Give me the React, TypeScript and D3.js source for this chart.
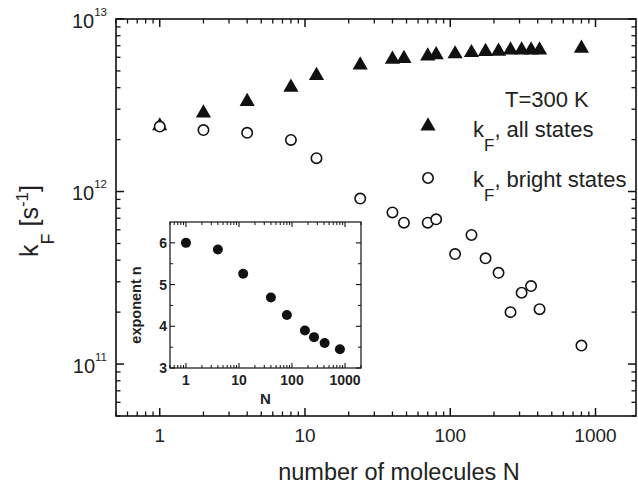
import React, { useEffect, useRef } from "react";
import { select, scaleLog, scaleLinear, symbol, symbolTriangle } from "d3";

// main panel data
const molecules = [1, 2, 4, 8, 12, 24, 40, 48, 70, 80, 108, 140, 175, 215, 260, 310, 360, 412, 800];
const kAllStates = [2.4e12, 2.85e12, 3.32e12, 4.02e12, 4.7e12, 5.41e12, 5.84e12, 5.9e12, 6.1e12, 6.2e12, 6.27e12, 6.38e12, 6.47e12, 6.5e12, 6.6e12, 6.6e12, 6.6e12, 6.6e12, 6.76e12];
const kBrightStates = [2.38e12, 2.27e12, 2.19e12, 1.99e12, 1.56e12, 9.1e11, 7.57e11, 6.6e11, 6.6e11, 6.9e11, 4.34e11, 5.6e11, 4.1e11, 3.38e11, 2.0e11, 2.59e11, 2.83e11, 2.08e11, 1.28e11];

// inset data
const insetN = [1, 4, 12, 40, 80, 175, 260, 412, 800];
const insetExponent = [6.0, 5.84, 5.26, 4.69, 4.27, 3.9, 3.74, 3.6, 3.45];

const xTickValues = [1, 10, 100, 1000];
const yTickPowers = [11, 12, 13];
const insetYTicks = [3, 4, 5, 6];
const insetYMinor = [3.5, 4.5, 5.5];

const FONT = "'Liberation Sans', Arial, Helvetica, sans-serif";

function logMinor(lo: number, hi: number) {
  const out: number[] = [];
  for (let d = Math.floor(Math.log10(lo)); d <= Math.ceil(Math.log10(hi)); d++) {
    for (let m = 2; m <= 9; m++) {
      const v = m * Math.pow(10, d);
      if (v >= lo && v <= hi) out.push(v);
    }
  }
  return out;
}

function drawTicks(g: any, values: number[], scale: any, box: any, len: number, sides: string[], width: number) {
  sides.forEach((side) => {
    g.append("g")
      .selectAll("line")
      .data(values)
      .join("line")
      .attr("x1", (v: number) => (side === "bottom" || side === "top" ? scale(v) : side === "left" ? box.left : box.right))
      .attr("x2", (v: number) => (side === "bottom" || side === "top" ? scale(v) : side === "left" ? box.left + len : box.right - len))
      .attr("y1", (v: number) => (side === "left" || side === "right" ? scale(v) : side === "bottom" ? box.bottom : box.top))
      .attr("y2", (v: number) => (side === "left" || side === "right" ? scale(v) : side === "bottom" ? box.bottom - len : box.top + len))
      .attr("stroke", "#111")
      .attr("stroke-width", width);
  });
}

function App() {
  const svgRef = useRef<SVGSVGElement>(null);

  useEffect(() => {
    const svg = select(svgRef.current);
    svg.selectAll("*").remove();

    const frame = { left: 116, right: 636, top: 19, bottom: 416 };
    const inset = { left: 170, right: 361, top: 222, bottom: 368 };

    const x = scaleLog().domain([0.5, 1900]).range([frame.left, frame.right]);
    const y = scaleLog().domain([5e10, 1e13]).range([frame.bottom, frame.top]);
    const ix = scaleLog().domain([0.5, 2000]).range([inset.left, inset.right]);
    const iy = scaleLinear().domain([3, 6.5]).range([inset.bottom, inset.top]);

    // main frame + ticks
    const axes = svg.append("g");
    axes.append("rect")
      .attr("x", frame.left).attr("y", frame.top)
      .attr("width", frame.right - frame.left).attr("height", frame.bottom - frame.top)
      .attr("fill", "none").attr("stroke", "#111").attr("stroke-width", 1.6);

    const yMajor = yTickPowers.map((p) => Math.pow(10, p));
    drawTicks(axes, xTickValues, x, frame, 8, ["bottom", "top"], 1.5);
    drawTicks(axes, logMinor(0.5, 1900), x, frame, 4.5, ["bottom", "top"], 1.3);
    drawTicks(axes, yMajor, y, frame, 8, ["left", "right"], 1.5);
    drawTicks(axes, logMinor(5e10, 1e13), y, frame, 4.5, ["left", "right"], 1.3);

    // x tick labels
    axes.append("g")
      .selectAll("text")
      .data(xTickValues)
      .join("text")
      .attr("x", (d) => x(d))
      .attr("y", frame.bottom + 26)
      .attr("text-anchor", "middle")
      .attr("font-family", FONT)
      .attr("font-size", 19)
      .attr("fill", "#222")
      .text((d) => String(d));

    // y tick labels 10^n
    const yl = axes.append("g")
      .selectAll("text")
      .data(yTickPowers)
      .join("text")
      .attr("x", 107)
      .attr("y", (p) => y(Math.pow(10, p)) + 8.5)
      .attr("text-anchor", "end")
      .attr("font-family", FONT)
      .attr("fill", "#222");
    yl.append("tspan").attr("font-size", 20).text("10");
    yl.append("tspan").attr("font-size", 11.5).attr("dy", -12).text((p) => String(p));

    // axis titles
    svg.append("text")
      .attr("x", 399).attr("y", 480)
      .attr("text-anchor", "middle")
      .attr("font-family", FONT).attr("font-size", 23.5).attr("fill", "#222")
      .text("number of molecules N");

    const yt = svg.append("text")
      .attr("transform", "translate(38,257) rotate(-90)")
      .attr("font-family", FONT).attr("font-size", 25).attr("fill", "#222");
    yt.append("tspan").text("k");
    yt.append("tspan").attr("font-size", 18).attr("dy", 16).text("F");
    yt.append("tspan").attr("dy", -16).text(" [s");
    yt.append("tspan").attr("font-size", 17).attr("dy", -10).text("-1");
    yt.append("tspan").attr("dy", 10).text("]");

    // data marks
    const tri = symbol().type(symbolTriangle).size(100)();
    const pts = molecules.map((n, i) => ({ n, all: kAllStates[i], bright: kBrightStates[i] }));

    svg.append("g")
      .selectAll("path")
      .data(pts)
      .join("path")
      .attr("d", tri)
      .attr("transform", (d) => `translate(${x(d.n)},${y(d.all)})`)
      .attr("fill", "#111");

    svg.append("g")
      .selectAll("circle")
      .data(pts)
      .join("circle")
      .attr("cx", (d) => x(d.n))
      .attr("cy", (d) => y(d.bright))
      .attr("r", 5.2)
      .attr("fill", "#fff")
      .attr("stroke", "#111")
      .attr("stroke-width", 1.6);

    // legend
    const lg = svg.append("g").attr("font-family", FONT).attr("fill", "#222");
    lg.append("text").attr("x", 505).attr("y", 107).attr("font-size", 22).text("T=300 K");
    lg.append("path").attr("d", tri).attr("transform", "translate(428,126)").attr("fill", "#111");
    lg.append("circle").attr("cx", 428).attr("cy", 178).attr("r", 5.2)
      .attr("fill", "#fff").attr("stroke", "#111").attr("stroke-width", 1.6);
    [["all states", 137], ["bright states", 187]].forEach(([label, yy]) => {
      const t = lg.append("text").attr("x", 473).attr("y", yy as number).attr("font-size", 22);
      t.append("tspan").text("k");
      t.append("tspan").attr("font-size", 17).attr("dy", 14).text("F");
      t.append("tspan").attr("dy", -14).text(", " + label);
    });

    // inset
    const ig = svg.append("g");
    ig.append("rect")
      .attr("x", inset.left).attr("y", inset.top)
      .attr("width", inset.right - inset.left).attr("height", inset.bottom - inset.top)
      .attr("fill", "#fff").attr("stroke", "#111").attr("stroke-width", 1.2);
    drawTicks(ig, xTickValues, ix, inset, 5, ["bottom", "top"], 1.1);
    drawTicks(ig, logMinor(0.5, 2000), ix, inset, 3, ["bottom", "top"], 1);
    drawTicks(ig, insetYTicks, iy, inset, 5, ["left", "right"], 1.1);
    drawTicks(ig, insetYMinor, iy, inset, 3, ["left", "right"], 1);

    ig.append("g")
      .selectAll("text")
      .data(xTickValues)
      .join("text")
      .attr("x", (d) => ix(d))
      .attr("y", inset.bottom + 17)
      .attr("text-anchor", "middle")
      .attr("font-family", FONT).attr("font-weight", "bold").attr("font-size", 14).attr("fill", "#222")
      .text((d) => String(d));

    ig.append("g")
      .selectAll("text")
      .data(insetYTicks)
      .join("text")
      .attr("x", 167)
      .attr("y", (d) => iy(d) + 5)
      .attr("text-anchor", "end")
      .attr("font-family", FONT).attr("font-weight", "bold").attr("font-size", 14).attr("fill", "#222")
      .text((d) => String(d));

    ig.append("text")
      .attr("x", (inset.left + inset.right) / 2).attr("y", 404)
      .attr("text-anchor", "middle")
      .attr("font-family", FONT).attr("font-weight", "bold").attr("font-size", 15).attr("fill", "#222")
      .text("N");

    ig.append("text")
      .attr("transform", "translate(141,305) rotate(-90)")
      .attr("text-anchor", "middle")
      .attr("font-family", FONT).attr("font-weight", "bold").attr("font-size", 14.5).attr("fill", "#222")
      .text("exponent n");

    ig.append("g")
      .selectAll("circle")
      .data(insetN.map((n, i) => ({ n, e: insetExponent[i] })))
      .join("circle")
      .attr("cx", (d) => ix(d.n))
      .attr("cy", (d) => iy(d.e))
      .attr("r", 5)
      .attr("fill", "#111");
  }, []);

  return (
    <div style={{ position: "absolute", left: 0, top: 0 }}>
      <svg ref={svgRef} width={638} height={487} style={{ display: "block", background: "#fff" }} />
    </div>
  );
}

export default App;
